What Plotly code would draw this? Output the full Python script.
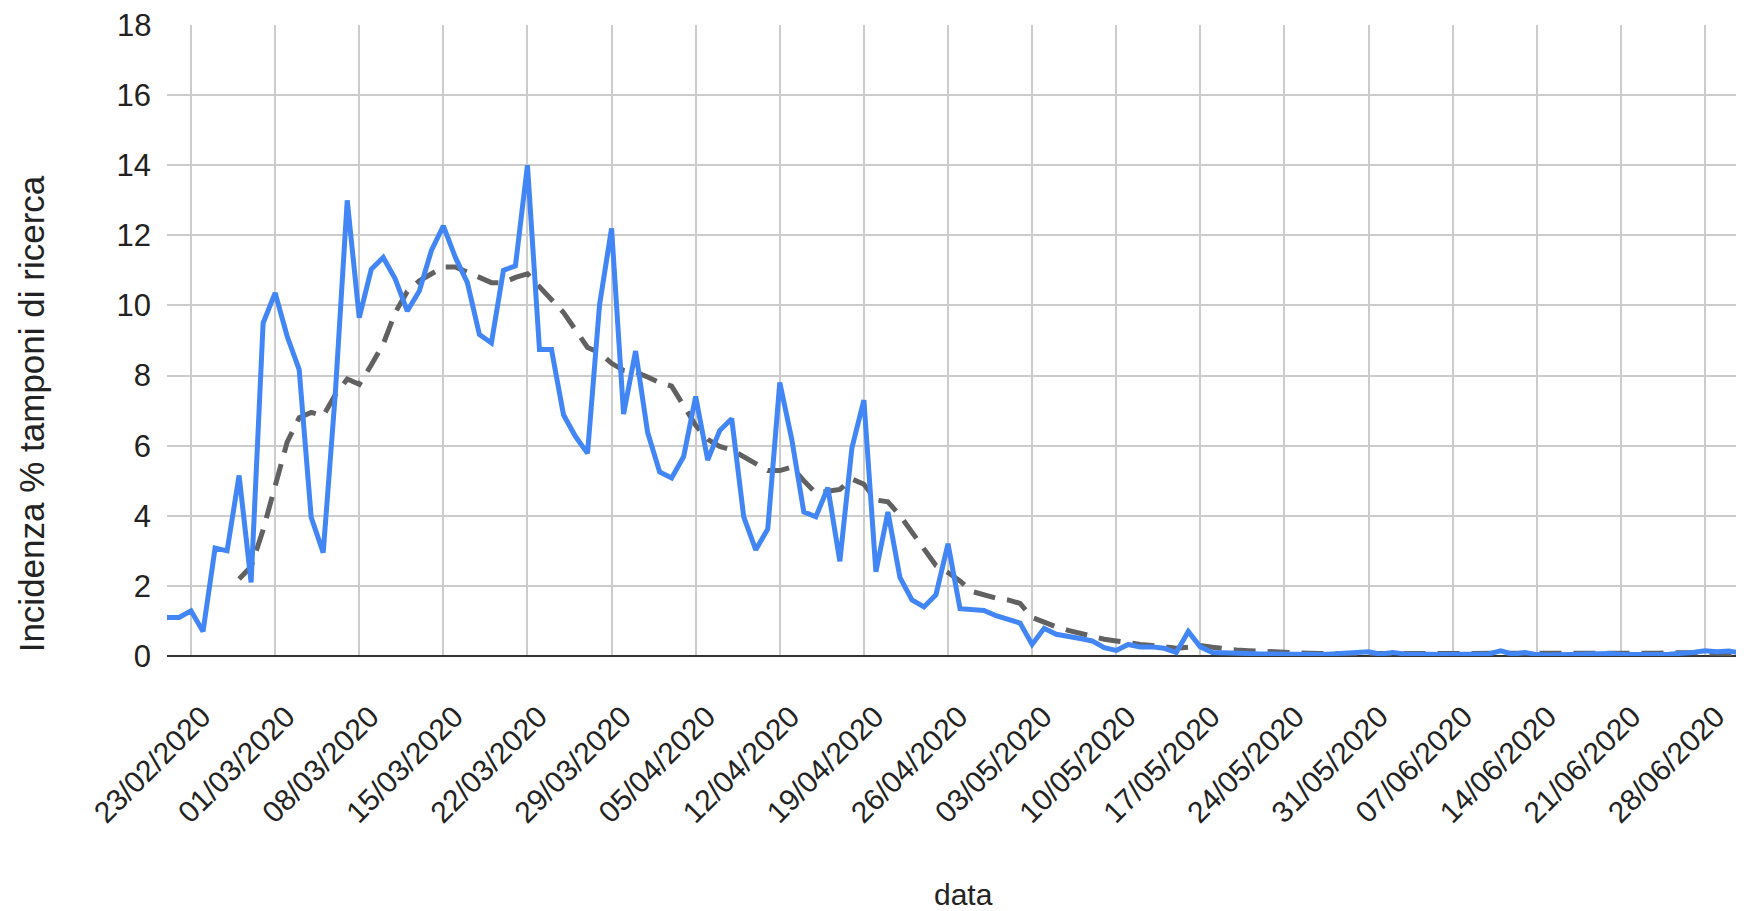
import pandas as pd
import plotly.graph_objects as go

start_date = "2020-02-21"
end_date = "2020-07-01"
dates = pd.date_range(start_date, end_date, freq="D")

incidenza = [
    1.10, 1.10, 1.29, 0.70, 3.08, 3.00, 5.15, 2.10, 9.50, 10.36,
    9.12, 8.17, 3.96, 2.95, 7.45, 13.0, 9.65, 11.03, 11.37, 10.75,
    9.84, 10.41, 11.56, 12.27, 11.37, 10.65, 9.17, 8.93, 11.0, 11.13,
    14.0, 8.74, 8.74, 6.88, 6.26, 5.78, 10.02, 12.2, 6.9, 8.7,
    6.38, 5.25, 5.08, 5.69, 7.4, 5.59, 6.43, 6.77, 3.97, 3.03,
    3.62, 7.8, 6.18, 4.11, 3.97, 4.8, 2.7, 5.93, 7.3, 2.4,
    4.11, 2.24, 1.6, 1.4, 1.75, 3.2, 1.35, 1.33, 1.3, 1.15,
    1.03, 0.94, 0.33, 0.79, 0.62, 0.57, 0.5, 0.43, 0.24, 0.16,
    0.33, 0.26, 0.26, 0.22, 0.1, 0.7, 0.26, 0.1, 0.08, 0.09,
    0.07, 0.06, 0.05, 0.04, 0.06, 0.05, 0.04, 0.06, 0.08, 0.09,
    0.12, 0.05, 0.1, 0.06, 0.04, 0.05, 0.04, 0.05, 0.04, 0.05,
    0.06, 0.15, 0.05, 0.1, 0.04, 0.03, 0.04, 0.03, 0.05, 0.06,
    0.07, 0.05, 0.04, 0.05, 0.04, 0.05, 0.06, 0.1, 0.15, 0.12,
    0.14, 0.08,
]

media_mobile = [None] * 6 + [
    2.2, 2.55, 3.6, 4.9, 6.1, 6.8, 6.95, 6.85, 7.45, 7.9,
    7.75, 8.3, 8.9, 9.8, 10.4, 10.7, 10.9, 11.1, 11.1, 10.95,
    10.8, 10.65, 10.65, 10.8, 10.9, 10.55, 10.2, 9.8, 9.3, 8.8,
    8.65, 8.35, 8.15, 8.1, 7.96, 7.8, 7.7, 7.17, 6.58, 6.18,
    5.98, 5.88, 5.69, 5.49, 5.29, 5.29, 5.39, 5.0, 4.65, 4.7,
    4.75, 5.05, 4.9, 4.45, 4.4, 4.01, 3.52, 3.03, 2.58, 2.38,
    2.14, 1.84, 1.74, 1.65, 1.6, 1.5, 1.1, 0.95, 0.83, 0.73,
    0.64, 0.54, 0.48, 0.43, 0.37, 0.33, 0.3, 0.26, 0.22, 0.25,
    0.3, 0.25, 0.2, 0.17, 0.15, 0.13, 0.11, 0.09, 0.08, 0.08,
    0.07, 0.07, 0.07, 0.07, 0.07, 0.07, 0.07, 0.07, 0.06, 0.06,
    0.06, 0.07, 0.07, 0.07, 0.07, 0.06, 0.06, 0.06, 0.05, 0.05,
    0.05, 0.05, 0.05, 0.05, 0.05, 0.05, 0.06, 0.07, 0.08, 0.09,
    0.1, 0.09, 0.08, 0.08, 0.07, 0.07,
]

y_title = "Incidenza % tamponi di ricerca"
x_title = "data"
tick_start = "2020-02-23"
y_ticks = [0, 2, 4, 6, 8, 10, 12, 14, 16, 18]
y_max = 18

font_family = "Liberation Sans, Arial, sans-serif"

fig = go.Figure()
fig.add_trace(go.Scatter(
    x=dates, y=media_mobile, mode="lines",
    line=dict(color="#616161", width=5, dash="22px,12px"),
    connectgaps=False, hoverinfo="skip", showlegend=False,
))
fig.add_trace(go.Scatter(
    x=dates, y=incidenza, mode="lines",
    line=dict(color="#4285F4", width=5),
    showlegend=False,
))

fig.update_layout(
    width=1744, height=911,
    margin=dict(l=159, r=11, t=17, b=263),
    paper_bgcolor="white", plot_bgcolor="white",
    font=dict(family=font_family, size=30, color="#222222"),
    xaxis=dict(
        type="date",
        range=[dates[0], dates[-1]],
        tick0=tick_start, dtick=7 * 86400000,
        tickformat="%d/%m/%Y",
        tickangle=-45,
        showgrid=True, gridcolor="#cccccc", gridwidth=2,
        showline=False, zeroline=False,
        ticks="", ticklabelstandoff=36, ticklabelshift=11,
        tickfont=dict(size=30, color="#222222"),
    ),
    yaxis=dict(
        range=[0, y_max], tickmode="array", tickvals=y_ticks,
        showgrid=True, gridcolor="#cccccc", gridwidth=2,
        zeroline=True, zerolinecolor="#333333", zerolinewidth=2,
        showline=False, ticks="", ticklabelstandoff=15,
        tickfont=dict(size=31, color="#222222"),
    ),
    annotations=[
        dict(text=str(y_max), xref="paper", yref="y", x=0, y=y_max,
             xanchor="right", yanchor="middle", xshift=-14, showarrow=False,
             font=dict(size=31, color="#222222", family=font_family)),
        dict(text=y_title, xref="paper", yref="paper", x=-0.0864, y=0.383,
             xanchor="center", yanchor="middle", textangle=-90, showarrow=False,
             font=dict(size=35, color="#222222", family=font_family)),
        dict(text=x_title, xref="paper", yref="paper", x=0.506, y=-0.378,
             xanchor="center", yanchor="middle", showarrow=False,
             font=dict(size=30, color="#222222", family=font_family)),
    ],
)

fig.write_html("out.html")
